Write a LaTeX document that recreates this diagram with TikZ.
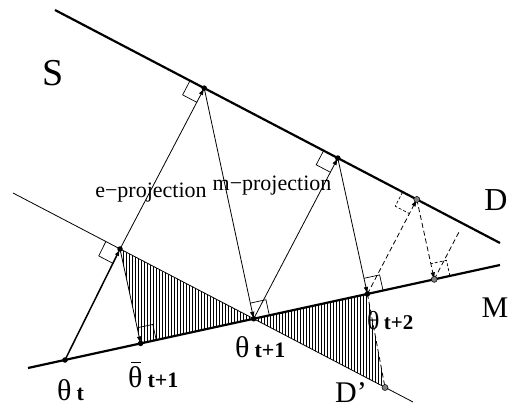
\documentclass[tikz,border=0pt]{standalone}
\usepackage{fontspec}
\setmainfont{Liberation Serif}
\usetikzlibrary{arrows.meta, calc, angles, patterns.meta}

\newcommand{\thb}{\makebox[0pt][l]{\hspace{0.1em}\raisebox{0.8em}{\rule{0.34em}{0.05em}}}θ}
\newcommand{\tsub}[1]{\,{\fontsize{22}{24}\selectfont\bfseries #1}}

\begin{document}
\begin{tikzpicture}[x=1pt, y=-1pt,
    bigline/.style={line width=2.2pt},
    dline/.style={line width=0.8pt},
    proj/.style={-{Latex[length=7pt,width=4.5pt]}, line width=0.8pt},
    dproj/.style={proj, dash pattern=on 5pt off 3pt},
    dot/.style={circle, fill, inner sep=0, minimum size=5.5pt},
    gdot/.style={circle, draw, fill=gray, inner sep=0, minimum size=6pt, line width=0.5pt},
    rt/.style={draw, angle radius=16pt, line width=0.7pt},
    hatch/.style={pattern={Lines[angle=90, distance=3pt, line width=0.6pt]}},
    lbl/.style={font=\fontsize{22}{26}\selectfont, inner sep=0},
    th/.style={font=\fontsize{30}{34}\selectfont, inner sep=0, anchor=base west},
]
    \useasboundingbox (0,0) rectangle (516,411);

    % manifolds
    \coordinate (Da) at (55,10);
    \coordinate (Db) at (500,243);
    \coordinate (Ma) at (28,368);
    \coordinate (Mb) at (500,265);
    \coordinate (Ea) at (13,193);
    \coordinate (Eb) at (413,402);

    % points
    \coordinate (T0) at (65,360);
    \coordinate (P1) at (120,249);
    \coordinate (Tb) at ($(Ma)!(P1)!(Mb)$);
    \coordinate (Q1) at ($(Da)!(P1)!(Db)$);
    \coordinate (T1) at (intersection of Ma--Mb and Ea--Eb);
    \coordinate (Q2) at ($(Da)!(T1)!(Db)$);
    \coordinate (T2) at ($(Ma)!(Q2)!(Mb)$);
    \coordinate (Q3) at ($(Da)!(T2)!(Db)$);
    \coordinate (G1) at ($(Ma)!(Q3)!(Mb)$);
    \coordinate (G2) at ($(G1)!0.86!($(Da)!(G1)!(Db)$)$);
    \coordinate (E2) at (385,387.5);

    % hatched areas
    \fill[hatch] (P1) -- (Tb) -- (T1) -- cycle;
    \fill[hatch] (T1) -- (T2) -- (E2) -- cycle;

    \draw[bigline] (Da) -- (Db);
    \draw[bigline] (Ma) -- (Mb);
    \draw[dline] (Ea) -- (Eb);

    % projections
    \draw[proj, line width=1.5pt] (T0) -- (P1);
    \draw[proj] (P1) -- (Tb);
    \draw[proj] (P1) -- (Q1);
    \draw[proj] (Q1) -- (T1);
    \draw[proj] (T1) -- (Q2);
    \draw[proj] (Q2) -- (T2);
    \draw[dproj] (T2) -- (Q3);
    \draw[dproj] (Q3) -- (G1);
    \draw[dproj, -] (G1) -- (G2);
    \draw[dproj, -] (T2) -- (E2);

    % right angles
    \pic[rt] {right angle = Ea--P1--T0};
    \pic[rt] {right angle = Mb--Tb--P1};
    \pic[rt] {right angle = Da--Q1--P1};
    \pic[rt] {right angle = Mb--T1--Q1};
    \pic[rt] {right angle = Da--Q2--T1};
    \pic[rt] {right angle = Mb--T2--Q2};
    \pic[rt, dash pattern=on 3pt off 2pt] {right angle = Da--Q3--T2};
    \pic[rt, dash pattern=on 3pt off 2pt] {right angle = Mb--G1--Q3};

    \node[dot] (n0) at (T0) {};
    \node[dot] (n1) at (P1) {};
    \node[dot] (n2) at (Tb) {};
    \node[dot] (n3) at (Q1) {};
    \node[dot] (n4) at (T1) {};
    \node[dot] (n5) at (Q2) {};
    \node[dot] (n6) at (T2) {};
    \node[gdot] (g1) at (Q3) {};
    \node[gdot] (g2) at (G1) {};
    \node[gdot] (g3) at (E2) {};

    % labels
    \node[font=\fontsize{38}{40}\selectfont] (lS) at (53,73) {S};
    \node[font=\fontsize{32}{34}\selectfont] (lD) at (496,200) {D};
    \node[font=\fontsize{30}{32}\selectfont] (lM) at (495,308) {M};
    \node[font=\fontsize{30}{32}\selectfont] (lE) at (351,393) {D’};
    \node[lbl] (le) at (151,193) {e−projection};
    \node[lbl] (lm) at (272,186) {m−projection};
    \node[th] (l0) at (57,400) {θ\tsub{t}};
    \node[th] (lb) at (128,387) {\thb\tsub{t+1}};
    \node[th] (l1) at (235,357) {θ\tsub{t+1}};
    \node[th, font=\fontsize{26}{30}\selectfont] (l2) at (367,329)
        {θ\,{\fontsize{21}{22}\selectfont\bfseries t+2}};
\end{tikzpicture}
\end{document}
